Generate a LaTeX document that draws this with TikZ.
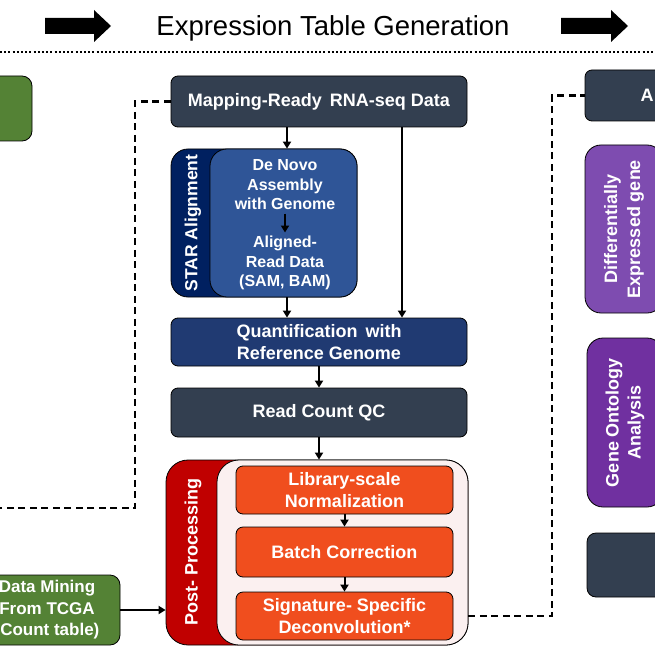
\documentclass[tikz,border=0pt]{standalone}
\usepackage{fontspec}
\setmainfont{Liberation Sans}
\usetikzlibrary{arrows.meta,positioning}
\definecolor{slate}{HTML}{333F50}
\definecolor{navy}{HTML}{002060}
\definecolor{steel}{HTML}{2F5597}
\definecolor{deep}{HTML}{203A72}
\definecolor{crimson}{HTML}{C00000}
\definecolor{blush}{HTML}{FBF0F0}
\definecolor{flame}{HTML}{F04E1E}
\definecolor{leaf}{HTML}{548235}
\definecolor{lilac}{HTML}{7E4CB0}
\definecolor{grape}{HTML}{7030A0}

\begin{document}
\begin{tikzpicture}[x=1pt,y=-1pt,
  box/.style={draw,line width=0.8pt,rounded corners=7pt,fill=slate,text=white,font=\fontsize{18}{21.5}\selectfont\bfseries,align=center,inner sep=0pt},
  group/.style={draw,line width=0.8pt,rounded corners=17pt,inner sep=0pt},
  side/.style={text=white,font=\fontsize{17.5}{21}\selectfont\bfseries,rotate=90,align=center},
  inner/.style={text=white,font=\fontsize{16}{19.5}\selectfont\bfseries,align=center},
  arr/.style={-{Triangle[length=7pt,width=8pt]},line width=2pt},
  link/.style={line width=2.8pt,dash pattern=on 7pt off 4.5pt}
]
\useasboundingbox (0,0) rectangle (655,655);
\clip (0,0) rectangle (655,655);

% header
\fill (45,18) -- (94,18) -- (94,10) -- (111,26) -- (94,42) -- (94,34) -- (45,34) -- cycle;
\fill (561,18) -- (611,18) -- (611,10) -- (628,26) -- (611,42) -- (611,34) -- (561,34) -- cycle;
\node[font=\fontsize{27.5}{30}\selectfont,anchor=base] (title) at (333,36) {Expression Table Generation};
\draw[line width=2pt,dash pattern=on 2pt off 2.2pt] (0,52) -- (655,52);

% left column (cut off)
\node[box,fill=leaf,rounded corners=10pt,minimum width=72pt,minimum height=65pt] (mine) at (-4,108.5) {};
\node[box,fill=leaf,rounded corners=10pt,minimum width=146pt,minimum height=70pt,font=\fontsize{17}{21.5}\selectfont\bfseries] (tcga) at (47,610) {Data Mining\\From TCGA\\(Count table)};

% middle column
\node[box,minimum width=296pt,minimum height=51pt] (map) at (319,101.5) {Mapping-Ready\, RNA-seq Data};
\node[group,fill=navy,minimum width=186pt,minimum height=148pt] (staro) at (264,223) {};
\node[group,fill=steel,minimum width=147pt,minimum height=148pt] (stari) at (283.5,223) {};
\node[side] (starlab) at (193,223) {STAR Alignment};
\node[inner] (denovo) at (285,185) {De Novo\\Assembly\\with Genome};
\node[inner] (aligned) at (285,263) {Aligned-\\Read Data\\(SAM, BAM)};
\draw[arr] (denovo) -- (aligned);

\node[box,fill=deep,minimum width=296pt,minimum height=48pt] (quant) at (319,342) {Quantification\, with\\Reference Genome};
\node[box,minimum width=296pt,minimum height=49pt] (qc) at (319,412.5) {Read Count QC};

\coordinate (split) at ([xshift=-32pt]map.south);
\coordinate (bypass) at ([xshift=83pt]map.south);
\draw[arr] (split) -- (split |- staro.north);
\draw[arr] (split |- staro.south) -- (split |- quant.north);
\draw[arr] (bypass) -- (bypass |- quant.north);
\draw[arr] (quant) -- (qc);

\node[group,fill=crimson,rounded corners=22pt,minimum width=302pt,minimum height=185pt] (posto) at (317,552.5) {};
\node[group,fill=blush,rounded corners=22pt,minimum width=251pt,minimum height=185pt] (posti) at (342.5,552.5) {};
\node[side,font=\fontsize{18}{21}\selectfont\bfseries] (postlab) at (193,552) {Post- Processing};
\draw[arr] (qc) -- (qc |- posto.north);

\node[box,fill=flame,minimum width=217pt,minimum height=48pt] (lib) at (344.5,490) {Library-scale\\Normalization};
\node[box,fill=flame,minimum width=217pt,minimum height=50pt] (batch) at (344.5,552) {Batch Correction};
\node[box,fill=flame,minimum width=217pt,minimum height=48pt] (sig) at (344.5,616) {Signature- Specific\\Deconvolution*};
\draw[arr] (lib) -- (batch);
\draw[arr] (batch) -- (sig);
\draw[arr] (tcga) -- (tcga -| posto.west);

% right column (cut off)
\node[box,minimum width=124pt,minimum height=51pt] (boxa) at (647,95.5) {A};
\node[box,fill=lilac,rotate=90,rounded corners=16pt,minimum width=168pt,minimum height=78pt,font=\fontsize{18}{23}\selectfont\bfseries] (degene) at (624,229) {Differentially\\Expressed gene};
\node[box,fill=grape,rotate=90,rounded corners=16pt,minimum width=169pt,minimum height=76pt,font=\fontsize{18}{22}\selectfont\bfseries] (goterm) at (625,422.5) {Gene Ontology\\Analysis};
\node[box,rounded corners=9pt,minimum width=113pt,minimum height=64pt] (extra) at (643.5,565) {};

% dashed links
\coordinate (lturn) at (135,508);
\coordinate (lend) at (-5,508);
\draw[link] (map.west) -| (lturn) -- (lend);
\coordinate (rturn) at (552,616);
\draw[link] (sig.east -| posto.east) -- (rturn) |- (boxa.west);
\end{tikzpicture}
\end{document}
